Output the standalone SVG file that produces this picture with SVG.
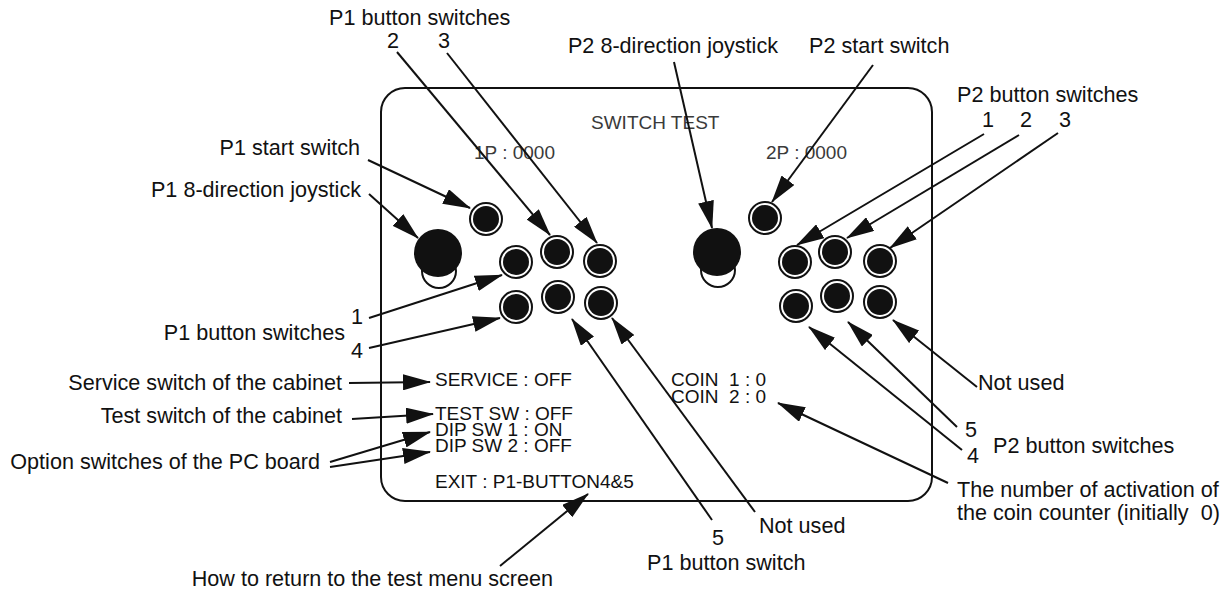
<svg xmlns="http://www.w3.org/2000/svg" width="1231" height="592" viewBox="0 0 1231 592">
<style>
text{font-family:"Liberation Sans",Arial,Helvetica,sans-serif;fill:#111}
.o{font-size:21.6px}
.i{font-size:19px}
.g{fill:#3a3a3a}
.e{text-anchor:end}
.m{text-anchor:middle}
.ring{fill:#fff;stroke:#111;stroke-width:2}
.dot{fill:#111}
.c line{stroke:#111;stroke-width:2;marker-end:url(#ah)}
</style>
<defs>
<marker id="ah" markerUnits="userSpaceOnUse" markerWidth="28" markerHeight="16" refX="27" refY="8" orient="auto">
<path d="M0,0 L28,8 L0,16 z" fill="#111"/>
</marker>
<g id="btn"><circle r="16" class="ring"/><circle r="13" class="dot"/></g>
<g id="stick"><circle cx="1" cy="18" r="17" class="ring"/><circle r="24" class="dot"/></g>
</defs>
<rect width="1231" height="592" fill="#fff"/>
<g id="screen">
<rect x="381" y="88" width="551" height="413" rx="24" fill="none" stroke="#111" stroke-width="2"/>
<text class="i g" x="591" y="129">SWITCH TEST</text>
<text class="i g" x="474" y="159">1P : 0000</text>
<text class="i g" x="766" y="159">2P : 0000</text>
<text class="i" x="435" y="386">SERVICE : OFF</text>
<text class="i" x="435" y="420">TEST SW : OFF</text>
<text class="i" x="435" y="436">DIP SW 1 : ON</text>
<text class="i" x="435" y="452">DIP SW 2 : OFF</text>
<text class="i" x="435" y="488">EXIT : P1-BUTTON4&amp;5</text>
<text class="i" x="671" y="386" xml:space="preserve">COIN  1 : 0</text>
<text class="i" x="671" y="403" xml:space="preserve">COIN  2 : 0</text>
</g>
<g id="p1-controls">
<use id="p1-stick" href="#stick" x="438" y="253"/>
<use id="p1-start" href="#btn" x="486" y="219"/>
<use id="p1-b1" href="#btn" x="516" y="262"/>
<use id="p1-b2" href="#btn" x="557" y="252"/>
<use id="p1-b3" href="#btn" x="600" y="261"/>
<use id="p1-b4" href="#btn" x="516" y="307"/>
<use id="p1-b5" href="#btn" x="558" y="297"/>
<use id="p1-b6" href="#btn" x="601" y="303"/>
</g>
<g id="p2-controls">
<use id="p2-stick" href="#stick" x="717" y="252"/>
<use id="p2-start" href="#btn" x="765" y="218"/>
<use id="p2-b1" href="#btn" x="795" y="262"/>
<use id="p2-b2" href="#btn" x="835" y="252"/>
<use id="p2-b3" href="#btn" x="880" y="261"/>
<use id="p2-b4" href="#btn" x="796" y="306"/>
<use id="p2-b5" href="#btn" x="837" y="296"/>
<use id="p2-b6" href="#btn" x="880" y="302"/>
</g>
<g id="labels">
<text class="o" x="329" y="25">P1 button switches</text>
<text class="o m" x="393" y="48">2</text>
<text class="o m" x="444" y="48">3</text>
<text class="o e" x="360" y="155">P1 start switch</text>
<text class="o e" x="361" y="197">P1 8-direction joystick</text>
<text class="o m" x="357" y="324">1</text>
<text class="o e" x="345" y="340">P1 button switches</text>
<text class="o m" x="357" y="358">4</text>
<text class="o e" x="342" y="390">Service switch of the cabinet</text>
<text class="o e" x="342" y="423">Test switch of the cabinet</text>
<text class="o e" x="320" y="469">Option switches of the PC board</text>
<text class="o e" x="553" y="586">How to return to the test menu screen</text>
<text class="o m" x="718" y="545">5</text>
<text class="o" x="647" y="570">P1 button switch</text>
<text class="o" x="759" y="533">Not used</text>
<text class="o" x="957" y="497">The number of activation of</text>
<text class="o" x="957" y="520" xml:space="preserve">the coin counter (initially  0)</text>
<text class="o m" x="971" y="437">5</text>
<text class="o m" x="973" y="463">4</text>
<text class="o" x="993" y="453">P2 button switches</text>
<text class="o" x="978" y="390">Not used</text>
<text class="o e" x="778" y="53">P2 8-direction joystick</text>
<text class="o" x="809" y="53">P2 start switch</text>
<text class="o" x="957" y="102">P2 button switches</text>
<text class="o m" x="988" y="127">1</text>
<text class="o m" x="1026" y="127">2</text>
<text class="o m" x="1065" y="127">3</text>
</g>
<g id="connectors" class="c">
<line x1="397" y1="52" x2="550" y2="235"/>
<line x1="447" y1="53" x2="597" y2="243"/>
<line x1="368" y1="160" x2="470" y2="208"/>
<line x1="369" y1="194" x2="418" y2="238"/>
<line x1="369" y1="318" x2="502" y2="275"/>
<line x1="369" y1="348" x2="500" y2="318"/>
<line x1="349" y1="383" x2="430" y2="382"/>
<line x1="352" y1="419" x2="433" y2="414"/>
<line x1="330" y1="462" x2="430" y2="432"/>
<line x1="330" y1="467" x2="430" y2="452"/>
<line x1="500" y1="566" x2="588" y2="494"/>
<line x1="712" y1="520" x2="572" y2="319"/>
<line x1="755" y1="512" x2="612" y2="318"/>
<line x1="948" y1="483" x2="778" y2="403"/>
<line x1="977" y1="387" x2="893" y2="320"/>
<line x1="957" y1="427" x2="848" y2="322"/>
<line x1="962" y1="450" x2="809" y2="327"/>
<line x1="674" y1="62" x2="712" y2="228"/>
<line x1="873" y1="65" x2="772" y2="202"/>
<line x1="984" y1="134" x2="797" y2="245"/>
<line x1="1019" y1="135" x2="847" y2="238"/>
<line x1="1058" y1="133" x2="890" y2="248"/>
</g>
</svg>
